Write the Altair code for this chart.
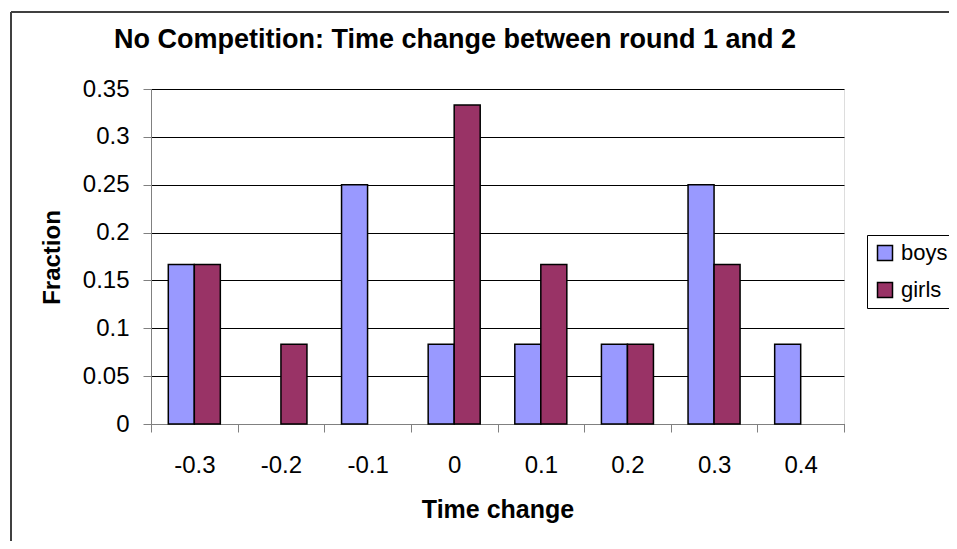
import altair as alt
import pandas as pd

categories = ["-0.3", "-0.2", "-0.1", "0", "0.1", "0.2", "0.3", "0.4"]
boys = [0.1667, 0.0, 0.25, 0.0833, 0.0833, 0.0833, 0.25, 0.0833]
girls = [0.1667, 0.0833, 0.0, 0.3333, 0.1667, 0.0833, 0.1667, 0.0]
series = ["boys", "girls"]
colors = ["#9999FF", "#993366"]
y_ticks = [0, 0.05, 0.1, 0.15, 0.2, 0.25, 0.3, 0.35]
title_text = "No Competition: Time change between round 1 and 2"

rows = []
for c, b, g in zip(categories, boys, girls):
    rows.append({"cat": c, "series": "boys", "value": b})
    rows.append({"cat": c, "series": "girls", "value": g})
df = pd.DataFrame(rows)

FONT = "Liberation Sans"
W, H = 693, 335

bars = alt.Chart(df).transform_filter("datum.value > 0").mark_bar(
    stroke="black", strokeWidth=1.5
).encode(
    x=alt.X("cat:N", sort=categories,
            scale=alt.Scale(domain=categories, paddingInner=0, paddingOuter=0),
            axis=alt.Axis(title="Time change", tickBand="extent", labelAngle=0,
                          labelFont=FONT, labelFontSize=24, labelColor="black",
                          labelPadding=21, tickSize=8, tickColor="#808080",
                          domainColor="#808080", titleFont=FONT, titleFontSize=25,
                          titleFontWeight="bold", titleColor="black", titlePadding=20)),
    xOffset=alt.XOffset("series:N", sort=series,
                        scale=alt.Scale(domain=series, paddingOuter=0.665, paddingInner=0)),
    y=alt.Y("value:Q", scale=alt.Scale(domain=[0, 0.35], nice=False),
            axis=alt.Axis(title="Fraction", values=y_ticks, format="~g",
                          labelFont=FONT, labelFontSize=24, labelColor="black",
                          labelPadding=14, tickSize=8, tickColor="#808080",
                          domainColor="#808080", gridColor="black", gridWidth=1,
                          titleFont=FONT, titleFontSize=24, titleFontWeight="bold",
                          titleColor="black", titleX=-99, titleY=168,
                          titleAngle=270, titleBaseline="middle", titleAlign="center")),
    color=alt.Color("series:N", sort=series,
                    scale=alt.Scale(domain=series, range=colors),
                    legend=alt.Legend(title=None, orient="none", legendX=716, legendY=146,
                                      strokeColor="black", fillColor="white", padding=7,
                                      symbolType="square", symbolSize=225,
                                      symbolStrokeColor="black", symbolStrokeWidth=1.5,
                                      labelFont=FONT, labelFontSize=22, labelColor="black",
                                      rowPadding=15, labelOffset=5)),
)

title = alt.Chart(pd.DataFrame({"t": [title_text]})).mark_text(
    font=FONT, fontSize=27, fontWeight="bold", color="black",
    align="center", baseline="middle"
).encode(text="t:N", x=alt.value(304), y=alt.value(-49))

frame = pd.DataFrame({"k": [0]})
top_line = alt.Chart(frame).mark_rule(stroke="#404040", strokeWidth=2).encode(
    x=alt.value(-140), x2=alt.value(830), y=alt.value(-77)
)
left_line = alt.Chart(frame).mark_rule(stroke="#404040", strokeWidth=2).encode(
    x=alt.value(-140), y=alt.value(-77), y2=alt.value(480)
)

chart = alt.layer(bars, title, top_line, left_line).properties(
    width=W, height=H,
    autosize=alt.AutoSizeParams(type="none"),
    padding={"left": 143, "top": 81, "right": 105, "bottom": 117},
).configure_view(stroke=None).configure(background="white")

chart.save("out.html", embed_options={"renderer": "svg", "actions": False})
